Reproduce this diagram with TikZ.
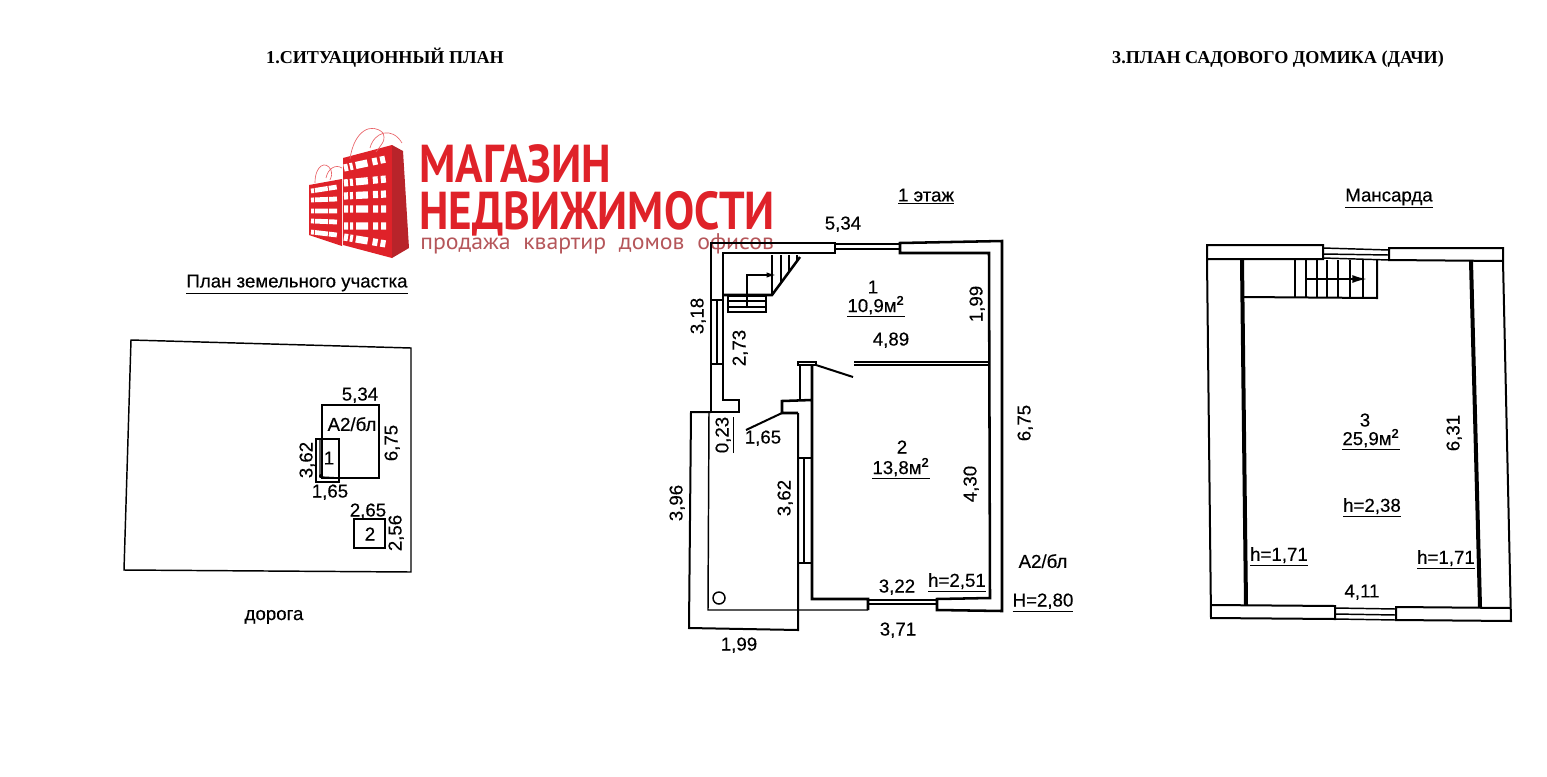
\documentclass[tikz,border=0pt]{standalone}
\usepackage{fontspec}
\setmainfont{Liberation Sans}
\newfontfamily\lblfont[FakeBold=0.35]{Liberation Sans}
\newfontfamily\titlefont{Liberation Serif}
\newfontfamily\logofont{PT Sans}
\usetikzlibrary{arrows.meta}
\definecolor{logored}{HTML}{DF2229}
\definecolor{logodark}{HTML}{B8242A}
\definecolor{logosub}{HTML}{B5565A}

\begin{document}
\begin{tikzpicture}
[x=0.75pt,y=-0.75pt,
                    wall/.style={line width=1.9pt,line join=miter},
                    thinwall/.style={line width=1.1pt},
                    midwall/.style={line width=1.5pt},
                    fatwall/.style={line width=3pt},
                    lbl/.style={inner sep=0pt,text depth=0pt,font=\lblfont\fontsize{14}{15}\selectfont},
                    lblv/.style={lbl,rotate=90},
                    heading/.style={inner sep=0pt,font=\titlefont\bfseries\fontsize{13.6}{15}\selectfont},
                    logotext/.style={inner sep=0pt,text depth=0pt,anchor=west,text=logored,font=\logofont\bfseries\fontsize{40}{40}\selectfont},
                    bagwin/.style={white,line width=5.4pt},
                    bagwinsmall/.style={white,line width=3.6pt},
                    handle/.style={logored!70,line width=0.5pt}]
\useasboundingbox (0,0) rectangle (1547,776);

% titles
\node[heading] (title1) at (385,58) {1.СИТУАЦИОННЫЙ ПЛАН};
\node[heading] (title3) at (1278,59) {3.ПЛАН САДОВОГО ДОМИКА (ДАЧИ)};

% logo
\fill[logored] (343,158) -- (392,145) -- (392,258) -- (343,245) -- cycle;
\fill[logodark] (392,145) -- (403,151) -- (409,248) -- (392,258) -- cycle;
\fill[logored] (309,185) -- (342,179) -- (342,246) -- (309,235) -- cycle;
\draw[bagwin,dash pattern=on 3pt off 1.5pt on 2.25pt off 2.25pt on 9pt off 3.75pt on 3.75pt off 2.25pt on 3.75pt off 9pt]
	(344,168) -- (386,159) (344,183) -- (386,179) (344,196) -- (386,194)
	(344,209) -- (386,209) (344,226) -- (386,226) (344,237) -- (386,244);
\draw[bagwinsmall,dash pattern=on 2.25pt off .75pt on 9.75pt off .75pt on 6pt off 9pt]
	(311,191) -- (337,187) (311,200) -- (337,199) (311,211) -- (337,211)
	(311,221) -- (337,222) (311,232) -- (337,235);
\draw[handle] (350,159) .. controls (354,130) and (372,122) .. (383,133) .. controls (385,140) .. (376,152)
	(370,148) .. controls (374,132) and (392,126) .. (402,143);
\draw[handle] (315,183) .. controls (315,165) and (326,160) .. (331,170) .. controls (332,175) .. (330,180)
	(326,178) .. controls (328,168) and (336,164) .. (342,168);
\node[logotext] (logo1) at (419,164) {\scalebox{.852}[1]{МАГАЗИН}};
\node[logotext] (logo2) at (419,210) {\scalebox{.846}[1]{НЕДВИЖИМОСТИ}};
\node[logotext,text=logosub,font=\logofont\fontsize{17}{18}\selectfont] (logo3) at (420,242) {\scalebox{1.05}[1]{продажа\ \ квартир\ \ домов\ \ офисов}};

% site plan
\node[lbl] (siteTitle) at (297,281) {\underline{План земельного участка}};
\draw[thinwall] (131,340) -- (411,348) -- (411,572) -- (124,570) -- cycle;
\draw[midwall] (322,405) rectangle (379,478);
\draw[midwall] (316,439) rectangle (339,482);
\draw[thinwall] (320,439) -- (320,477) -- (339,478);
\fill (321,476) circle (2);
\draw[midwall] (354,519) rectangle (385,548);
\node[lbl] (site534) at (360,394) {5,34};
\node[lbl] (siteA2) at (352,424) {А2/бл};
\node[lblv] (site675) at (391,443) {6,75};
\node[lbl] (site1) at (329,458) {1};
\node[lblv] (site362) at (306,460) {3,62};
\node[lbl] (site165) at (330,491) {1,65};
\node[lbl] (site265) at (368,510) {2,65};
\node[lbl] (site2) at (370,534) {2};
\node[lblv] (site256) at (395,533) {2,56};
\node[lbl] (road) at (274,615) {дорога};

% first floor
\node[lbl] (floorTitle) at (926,195) {\underline{1 этаж}};
\draw[wall] (835,243) -- (711,243) -- (711,412) -- (739,412) -- (739,400) -- (723,400) -- (723,253) -- (835,253) -- cycle;
\draw[wall] (900,243) -- (1002,241) -- (1002,611) -- (937,610) -- (937,599) -- (990,598) -- (989,253) -- (900,253) -- cycle;
\draw[thinwall] (835,244) -- (900,244) (835,249) -- (900,249);
\draw[wall] (868,610) -- (868,599) -- (812,599) -- (812,365) (812,400) -- (782,401) -- (782,413) -- (798,413);
\draw[midwall] (798,413) -- (798,630) -- (689,628) -- (691,412) -- (711,412);
\draw[thinwall] (709,412) -- (708,610) -- (868,610);
\draw[thinwall] (868,600) -- (937,600) (868,604) -- (937,604);
% inner walls and doors
\draw[midwall] (800,365) -- (800,401);
\draw[thinwall] (798,362) rectangle (816,365);
\draw[midwall] (816,365) -- (853,377);
\draw[midwall] (746,430) -- (782,413);
\draw[midwall] (854,362) -- (989,362);
\draw[thinwall] (854,365) -- (989,365);
% windows
\draw[thinwall] (711,300) -- (723,300) (711,364) -- (723,364) (717,300) -- (717,364);
\draw[thinwall] (798,458) -- (812,458) (798,563) -- (812,563) (804,458) -- (804,563);
% stair
\draw[wall] (723,295) -- (772,295) -- (800,257);
\draw[thinwall] (772,255) -- (772,295) (781,255) -- (781,283) (789,255) -- (789,272) (797,255) -- (797,262);
\draw[midwall] (728,296) rectangle (766,312);
\draw[thinwall] (728,301) -- (766,301) (728,307) -- (766,307);
\draw[thinwall,-{Latex[length=7pt,width=4pt]}] (747,308) -- (747,275) -- (776,275);
\draw[thinwall] (719,598) circle (6);
% labels
\node[lbl] (f534) at (843,223) {5,34};
\node[lbl] (room1) at (873,287) {1};
\node[lbl] (area1) at (876,304) {\underline{10,9м$^{\mathbf 2}$}};
\node[lblv] (f199) at (976,304) {1,99};
\node[lbl] (f489) at (891,339) {4,89};
\node[lblv] (f318) at (697,316) {3,18};
\node[lblv] (f273) at (739,348) {2,73};
\node[lblv] (f675) at (1024,423) {6,75};
\node[lblv] (f023) at (722,435) {\underline{0,23}};
\node[lbl] (f165) at (763,437) {1,65};
\node[lbl] (room2) at (902,447) {2};
\node[lbl] (area2) at (901,466) {\underline{13,8м$^{\mathbf 2}$}};
\node[lblv] (f430) at (970,484) {4,30};
\node[lblv] (f396) at (676,503) {3,96};
\node[lblv] (f362) at (784,498) {3,62};
\node[lbl] (f322) at (897,586) {3,22};
\node[lbl] (h251) at (957,580) {\underline{h=2,51}};
\node[lbl] (fA2) at (1043,561) {А2/бл};
\node[lbl] (H280) at (1043,600) {\underline{H=2,80}};
\node[lbl] (f371) at (898,629) {3,71};
\node[lbl] (f199b) at (739,644) {1,99};

% attic
\node[lbl] (atticTitle) at (1389,195) {\underline{Мансарда}};
\draw[midwall] (1323,245) -- (1207,245) -- (1207,259) -- (1323,259) -- cycle
	(1207,259) -- (1211,618) -- (1335,619) -- (1335,606) -- (1211,605);
\draw[midwall] (1389,248) -- (1503,248) -- (1503,261) -- (1389,260) -- cycle
	(1503,261) -- (1511,621) -- (1396,620) -- (1396,607) -- (1510,608);
\draw[thinwall] (1323,248) -- (1389,250) (1323,254) -- (1389,255) (1323,258) -- (1389,260);
\draw[thinwall] (1335,608) -- (1396,609) (1335,614) -- (1396,615) (1335,619) -- (1396,620);
\draw[fatwall] (1242,260) -- (1246,605);
\draw[fatwall] (1471,261) -- (1480,607);
\draw[midwall] (1242,297) -- (1377,298) -- (1377,260);
\draw[thinwall] (1295,260) -- (1295,297) (1306,260) -- (1306,297) (1317,260) -- (1317,297) (1327,260) -- (1327,297)
	(1338,260) -- (1338,297) (1350,260) -- (1350,297) (1363,260) -- (1363,297);
\draw[midwall,-{Latex[length=11pt,width=6pt]}] (1305,279) -- (1367,279);
\node[lbl] (room3) at (1365,420) {3};
\node[lbl] (area3) at (1371,437) {\underline{25,9м$^{\mathbf 2}$}};
\node[lblv] (a631) at (1453,433) {6,31};
\node[lbl] (h238) at (1372,505) {\underline{h=2,38}};
\node[lbl] (h171a) at (1279,554) {\underline{h=1,71}};
\node[lbl] (h171b) at (1446,557) {\underline{h=1,71}};
\node[lbl] (a411) at (1362,591) {4,11};
\end{tikzpicture}
\end{document}
